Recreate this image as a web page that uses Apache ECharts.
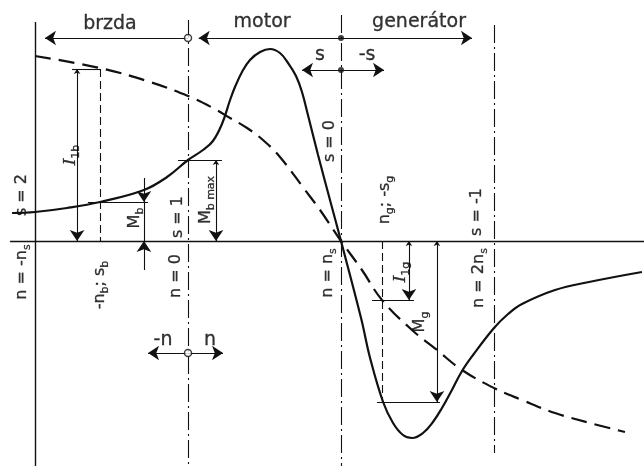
<!DOCTYPE html>
<html>
<head>
<meta charset="utf-8">
<script src="https://cdn.jsdelivr.net/npm/echarts@6/dist/echarts.min.js"></script>
<style>
  html, body { margin: 0; padding: 0; background: #fff; }
  #chart { width: 644px; height: 466px; }
</style>
</head>
<body>
<div id="chart"></div>
<script>
// x: speed n / n_s, y: relative torque M (solid) and stator current I1 (dashed)
const torque = [
  [-1.15, 0.28], [-1.0, 0.29], [-0.791, 0.33], [-0.575, 0.39], [-0.288, 0.51],
  [-0.137, 0.64], [0, 0.81], [0.098, 0.91], [0.163, 1.0], [0.222, 1.17],
  [0.275, 1.41], [0.307, 1.54], [0.353, 1.69], [0.405, 1.81], [0.471, 1.89],
  [0.536, 1.92], [0.601, 1.88], [0.654, 1.78], [0.706, 1.65], [0.745, 1.49],
  [0.784, 1.26], [0.85, 0.86], [0.928, 0.41], [1.0, 0], [1.131, -0.77],
  [1.19, -1.17], [1.275, -1.61], [1.34, -1.82], [1.405, -1.94], [1.464, -1.97],
  [1.536, -1.92], [1.601, -1.81], [1.66, -1.67], [1.725, -1.49], [1.791, -1.3],
  [1.863, -1.14], [2.0, -0.87], [2.092, -0.73], [2.183, -0.63], [2.399, -0.49],
  [2.621, -0.41], [2.967, -0.31]
];
const current = [
  [-1.0, 1.85], [-0.575, 1.73], [-0.248, 1.59], [0, 1.45], [0.163, 1.33],
  [0.275, 1.23], [0.386, 1.13], [0.49, 1.01], [0.601, 0.84], [0.765, 0.51],
  [0.863, 0.31], [1.0, 0], [1.137, -0.29], [1.268, -0.59], [1.464, -0.89],
  [1.627, -1.09], [1.791, -1.29], [2.0, -1.47], [2.183, -1.59], [2.399, -1.72],
  [2.627, -1.82], [2.856, -1.91]
];
const speedMarks = [-1, 0, 1, 2];          // -n_s, 0, n_s, 2n_s
const regions = ['brzda', 'motor', 'generátor'];
const nb = -0.575, Mb = 0.39, I1b = 1.72;  // brake point
const Mbmax = 0.81;                         // torque at n = 0
const ng = 1.268, I1g = -0.59, Mg = -1.61;  // generator point

const ink = '#111';
const dashDot = [18, 4, 2, 4];
const X0 = -1.2288, X1 = 2.9804, Y0 = -2.25, Y1 = 2.41;

const refLines = [
  { coords: [[speedMarks[0], 2.19], [speedMarks[0], Y0]], lineStyle: { width: 1.4 } },
  { coords: [[speedMarks[1], 2.21], [speedMarks[1], Y0]], lineStyle: { type: dashDot } },
  { coords: [[speedMarks[2], 2.26], [speedMarks[2], Y0]], lineStyle: { type: dashDot } },
  { coords: [[speedMarks[3], 2.16], [speedMarks[3], -2.12]], lineStyle: { type: dashDot } },
  { coords: [[-1.163, 0], [X1, 0]], lineStyle: { width: 1.4 } },
  { coords: [[nb, I1b], [nb, 0]], lineStyle: { type: [8, 4] } },
  { coords: [[ng, 0], [ng, Mg]], lineStyle: { type: [8, 4] } },
  { coords: [[-0.758, I1b], [nb, I1b]] },
  { coords: [[-0.654, Mb], [-0.261, Mb]] },
  { coords: [[-0.065, Mbmax], [0.222, Mbmax]] },
  { coords: [[1.203, I1g], [1.477, I1g]] },
  { coords: [[1.235, Mg], [1.647, Mg]] },
  { coords: [[-0.288, Mb], [-0.288, 0]] }
];
const arrows = [
  [[0, 2.03], [-0.935, 2.03]],
  [[1, 2.03], [0.07, 2.03]],
  [[1, 2.03], [1.856, 2.03]],
  [[1, 1.71], [0.745, 1.71]],
  [[1, 1.71], [1.281, 1.71]],
  [[0, -1.12], [-0.261, -1.12]],
  [[0, -1.12], [0.229, -1.12]],
  [[-0.288, 0.63], [-0.288, Mb]],
  [[-0.288, -0.29], [-0.288, 0]]
];
const dims = [
  [[-0.725, I1b], [-0.725, 0]],
  [[0.183, Mbmax], [0.183, 0]],
  [[1.444, 0], [1.444, I1g]],
  [[1.627, 0], [1.627, Mg]]
];
// [x, y, text, rotation]
const labels = [
  [-0.51, 2.17, regions[0], 0],
  [0.484, 2.19, regions[1], 0],
  [1.51, 2.19, regions[2], 0],
  [0.863, 1.86, 's', 0],
  [1.17, 1.86, '-s', 0],
  [-0.163, -0.99, '-n', 0],
  [0.144, -0.99, 'n', 0],
  [-1.085, 0.46, 's = 2', 90],
  [-1.085, -0.31, 'n = -n{s|s}', 90],
  [-0.765, 0.86, '{i|I}{s|1b}', 90],
  [-0.575, -0.44, '-n{s|b}; s{s|b}', 90],
  [-0.346, 0.23, 'M{s|b}', 90],
  [-0.065, 0.24, 's = 1', 90],
  [-0.078, -0.35, 'n = 0', 90],
  [0.118, 0.41, 'M{s|b max}', 90],
  [0.928, 1.0, 's = 0', 90],
  [0.915, -0.32, 'n = n{s|s}', 90],
  [1.288, 0.41, 'n{s|g}; -s{s|g}', 90],
  [1.392, -0.31, '{i|I}{s|1g}', 90],
  [1.516, -0.81, 'M{s|g}', 90],
  [1.889, 0.29, 's = -1', 90],
  [1.902, -0.37, 'n = 2n{s|s}', 90]
];

const inkText = { color: '#000', textBorderWidth: 0.3, textBorderColor: '#000', textShadowBlur: 0 };

const chart = echarts.init(document.getElementById('chart'));
chart.setOption({
  animation: false,
  backgroundColor: '#fff',
  grid: { left: 0, right: 0, top: 0, bottom: 0 },
  xAxis: { type: 'value', min: X0, max: X1, show: false },
  yAxis: { type: 'value', min: Y0, max: Y1, show: false },
  series: [
    {
      type: 'lines', coordinateSystem: 'cartesian2d', silent: true,
      symbol: ['none', 'none'],
      lineStyle: { color: ink, width: 1.1, opacity: 1 },
      data: refLines
    },
    {
      type: 'lines', coordinateSystem: 'cartesian2d', silent: true,
      symbol: ['none', 'arrow'], symbolSize: [5, 11],
      lineStyle: { color: ink, width: 1.1, opacity: 1 },
      data: arrows.map(c => ({ coords: c }))
    },
    {
      type: 'lines', coordinateSystem: 'cartesian2d', silent: true,
      symbol: ['arrow', 'arrow'], symbolSize: [5, 11],
      lineStyle: { color: ink, width: 1.1, opacity: 1 },
      data: dims.map(c => ({ coords: c }))
    },
    {
      name: 'M', type: 'line', data: torque, smooth: 0.4,
      showSymbol: false, silent: true,
      lineStyle: { color: ink, width: 2.2 }
    },
    {
      name: 'I1', type: 'line', data: current, smooth: 0.4,
      showSymbol: false, silent: true,
      lineStyle: { color: ink, width: 2.2, type: [16, 8] }
    },
    {
      type: 'scatter', silent: true, symbolSize: 7,
      itemStyle: { color: '#fff', borderColor: ink, borderWidth: 1.5 },
      data: [[0, 2.03], [0, -1.12]]
    },
    {
      type: 'scatter', silent: true, symbolSize: 6,
      itemStyle: { color: ink },
      data: [[1, 2.03], [1, 1.71]]
    },
    {
      type: 'scatter', silent: true, symbolSize: 0,
      itemStyle: { color: ink },
      label: Object.assign({
        show: true, position: 'inside',
        fontFamily: 'DejaVu Sans', fontSize: 16, lineHeight: 22,
        rich: {
          s: Object.assign({ fontFamily: 'DejaVu Sans', fontSize: 11, lineHeight: 11, verticalAlign: 'bottom' }, inkText),
          i: Object.assign({ fontFamily: 'DejaVu Serif', fontStyle: 'italic', fontSize: 17, lineHeight: 22 }, inkText)
        }
      }, inkText),
      data: labels.map(l => ({
        value: [l[0], l[1]],
        label: { formatter: l[2], rotate: l[3], fontSize: l[3] ? 16 : 19 }
      }))
    }
  ]
});
</script>
</body>
</html>
